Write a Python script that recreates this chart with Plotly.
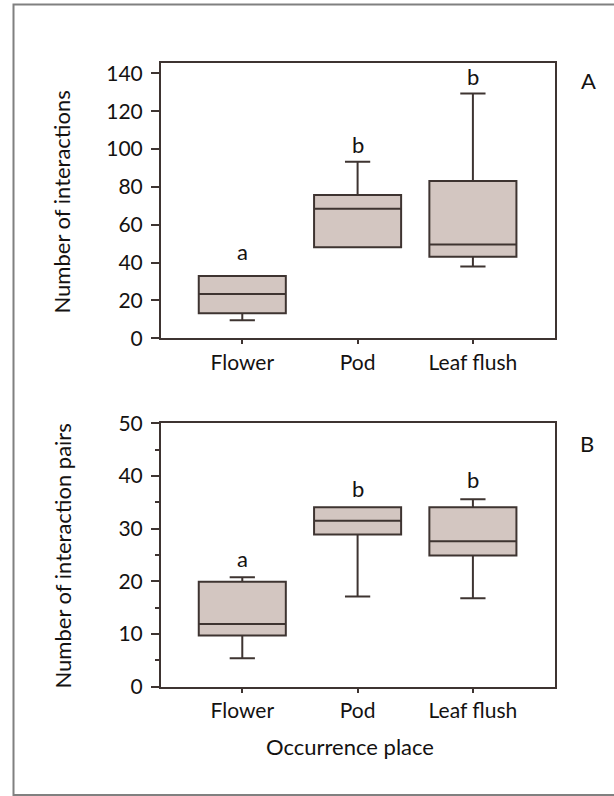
import plotly.graph_objects as go

# ---------------- data ----------------
categories = ["Flower", "Pod", "Leaf flush"]
cat_pos = [0, 1, 2]

# Panel A: Number of interactions
a_q1 = [13.2, 48.1, 43.1]
a_median = [23.4, 68.5, 49.6]
a_q3 = [32.9, 75.7, 83.1]
a_low = [9.5, 48.1, 38.0]
a_high = [32.9, 93.3, 129.4]
a_letters = ["a", "b", "b"]
a_letter_y = [40.5, 96.8, 133.0]

# Panel B: Number of interaction pairs
b_q1 = [9.7, 28.9, 24.9]
b_median = [11.9, 31.5, 27.6]
b_q3 = [19.9, 34.05, 34.05]
b_low = [5.4, 17.1, 16.8]
b_high = [20.8, 34.05, 35.6]
b_letters = ["a", "b", "b"]
b_letter_y = [22.3, 35.6, 37.3]

# ---------------- style ----------------
FONT = "Lato"
INK = "#141211"
LINE = "#3e3431"
FILL = "#d3c6c1"
W, H = 614, 796

fig = go.Figure()

def add_box(q1, med, q3, lo, hi, xa, ya):
    fig.add_trace(go.Box(
        x=cat_pos, q1=q1, median=med, q3=q3, lowerfence=lo, upperfence=hi,
        xaxis=xa, yaxis=ya, width=0.755, whiskerwidth=0.29,
        fillcolor=FILL, line=dict(color=LINE, width=2),
        boxpoints=False, hoverinfo="skip", showlegend=False,
    ))

add_box(a_q1, a_median, a_q3, a_low, a_high, "x", "y")
add_box(b_q1, b_median, b_q3, b_low, b_high, "x2", "y2")

xdom = [161 / W, 555 / W]
ydomA = [1 - 338.3 / H, 1 - 63.3 / H]
ydomB = [1 - 686.7 / H, 1 - 423.3 / H]

xcommon = dict(
    domain=xdom, range=[-0.705, 2.712], tickvals=cat_pos, ticktext=categories,
    showline=True, mirror=True, linecolor=LINE, linewidth=2,
    ticks="outside", ticklen=4, tickcolor=LINE, tickwidth=1.5,
    showgrid=False, zeroline=False, ticklabelstandoff=0, automargin=False,
    tickfont=dict(family=FONT, size=21, color=INK), fixedrange=True,
)
ycommon = dict(
    showline=True, mirror=True, linecolor=LINE, linewidth=2,
    ticks="outside", ticklen=8, tickcolor=LINE, tickwidth=1.5,
    showgrid=False, zeroline=False, ticklabelstandoff=4, automargin=False,
    tickfont=dict(family=FONT, size=21, color=INK), fixedrange=True,
)

fig.update_layout(
    width=W, height=H,
    margin=dict(l=0, r=0, t=0, b=0, autoexpand=False),
    paper_bgcolor="white", plot_bgcolor="white",
    showlegend=False,
    xaxis=dict(**xcommon, anchor="y"),
    xaxis2=dict(**xcommon, anchor="y2"),
    yaxis=dict(**ycommon, domain=ydomA, range=[0, 145.3], dtick=20, anchor="x"),
    yaxis2=dict(**ycommon, domain=ydomB, range=[0, 50], dtick=10, anchor="x2",
                minor=dict(dtick=5, ticks="outside", ticklen=4, tickcolor=LINE, tickwidth=1.5)),
)

ann = []
for x, t, y in zip(cat_pos, a_letters, a_letter_y):
    ann.append(dict(x=x, y=y, xref="x", yref="y", text=t, showarrow=False,
                    yanchor="bottom", yshift=-5, font=dict(family=FONT, size=22, color=INK)))
for x, t, y in zip(cat_pos, b_letters, b_letter_y):
    ann.append(dict(x=x, y=y, xref="x2", yref="y2", text=t, showarrow=False,
                    yanchor="bottom", yshift=-5, font=dict(family=FONT, size=22, color=INK)))

ann += [
    dict(x=61 / W, y=1 - 202.5 / H, xref="paper", yref="paper", text="Number of interactions",
         textangle=-90, showarrow=False, xanchor="center", yanchor="middle",
         font=dict(family=FONT, size=22, color=INK)),
    dict(x=61.5 / W, y=1 - 556 / H, xref="paper", yref="paper", text="Number of interaction pairs",
         textangle=-90, showarrow=False, xanchor="center", yanchor="middle",
         font=dict(family=FONT, size=22, color=INK)),
    dict(x=350 / W, y=1 - 746 / H, xref="paper", yref="paper", text="Occurrence place",
         showarrow=False, xanchor="center", yanchor="middle",
         font=dict(family=FONT, size=22, color=INK)),
    dict(x=588 / W, y=1 - 80 / H, xref="paper", yref="paper", text="A",
         showarrow=False, xanchor="center", yanchor="middle",
         font=dict(family=FONT, size=22, color=INK)),
    dict(x=587 / W, y=1 - 443.5 / H, xref="paper", yref="paper", text="B",
         showarrow=False, xanchor="center", yanchor="middle",
         font=dict(family=FONT, size=22, color=INK)),
]
fig.update_layout(annotations=ann)

# outer frame
fig.add_shape(type="rect", xref="paper", yref="paper",
              x0=13.5 / W, x1=1.02, y0=1 - 795 / H, y1=1 - 4.5 / H,
              line=dict(color="#808080", width=2), fillcolor="rgba(0,0,0,0)", layer="below")

fig.write_html(
    "out.html",
    config={"displayModeBar": False},
    post_script="document.body.style.margin='0';document.body.style.overflow='hidden';",
)
